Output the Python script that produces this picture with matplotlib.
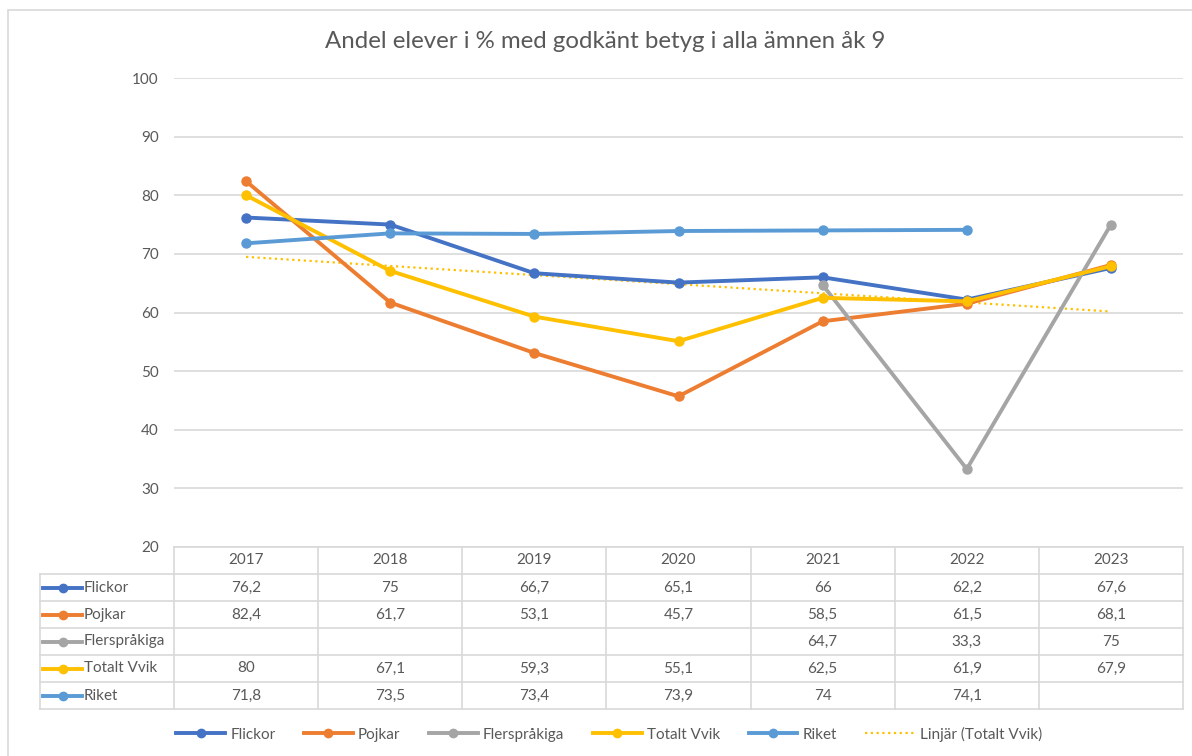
import matplotlib.pyplot as plt
from matplotlib.lines import Line2D
import numpy as np

plt.rcParams['font.family'] = ['Lato', 'DejaVu Sans']

years = ['2017', '2018', '2019', '2020', '2021', '2022', '2023']
series_names = ['Flickor', 'Pojkar', 'Flerspråkiga', 'Totalt Vvik', 'Riket']
flickor = [76.2, 75, 66.7, 65.1, 66, 62.2, 67.6]
pojkar = [82.4, 61.7, 53.1, 45.7, 58.5, 61.5, 68.1]
flersprakiga = [None, None, None, None, 64.7, 33.3, 75]
totalt = [80, 67.1, 59.3, 55.1, 62.5, 61.9, 67.9]
riket = [71.8, 73.5, 73.4, 73.9, 74, 74.1, None]
colors = ['#4472C4', '#ED7D31', '#A5A5A5', '#FFC000', '#5B9BD5']
title = 'Andel elever i % med godkänt betyg i alla ämnen åk 9'

all_values = [flickor, pojkar, flersprakiga, totalt, riket]
txt_color = '#595959'
grid_color = '#D9D9D9'
fs = 11

W, H = 1192, 756
fig = plt.figure(figsize=(W / 100, H / 100), dpi=100)

# outer chart frame (runs off the right/bottom edge)
fig.add_artist(plt.Rectangle((8 / W, -0.02), 1.2, (H - 10) / H + 0.02,
                             transform=fig.transFigure, fill=False,
                             edgecolor='#D9D9D9', lw=1.2))

# plot area in pixel coordinates
left, right, top, bottom = 174, 1183, 78, 547
ax = fig.add_axes([left / W, (H - bottom) / H, (right - left) / W, (bottom - top) / H])
x = np.arange(len(years))
ax.set_xlim(-0.5, len(years) - 0.5)
ax.set_ylim(20, 100)
ax.set_yticks(range(20, 101, 10))
ax.set_xticks([])
for s in ax.spines.values():
    s.set_visible(False)
ax.grid(axis='y', color=grid_color, lw=1.2)
ax.set_axisbelow(True)
ax.tick_params(axis='y', length=0, pad=11, labelsize=fs, labelcolor=txt_color)

for name, vals, c in zip(series_names, all_values, colors):
    xs = [i for i, v in enumerate(vals) if v is not None]
    ys = [v for v in vals if v is not None]
    ax.plot(xs, ys, color=c, lw=2.8, marker='o', ms=6.5, solid_capstyle='round',
            clip_on=False, zorder=3)

# linear trend of Totalt Vvik (Excel "Linjär")
k, m = np.polyfit(x, totalt, 1)
ax.plot(x, k * x + m, color='#FFC000', lw=1.6, ls=(0, (1, 1.6)), zorder=2)

fig.text(605 / W, (H - 42) / H, title, ha='center', va='center', fontsize=17.3, color=txt_color)

# data table underneath, sharing the x positions
row_h = 27
n_rows = len(series_names)
tab = fig.add_axes([left / W, (H - bottom - row_h * (n_rows + 1)) / H,
                    (right - left) / W, row_h * (n_rows + 1) / H])
tab.set_xlim(-0.5, len(years) - 0.5)
tab.set_ylim(n_rows + 1, 0)
tab.axis('off')
px = (len(years)) / (right - left)  # data units per pixel
lab_left = -0.5 - (left - 40) * px

for i, yr in enumerate(years):
    tab.text(i, 0.5, yr, ha='center', va='center', fontsize=fs, color=txt_color)
# grid lines
tab.plot([-0.5, 6.5], [0, 0], color=grid_color, lw=1.2, clip_on=False)
for r in range(1, n_rows + 2):
    tab.plot([lab_left, 6.5], [r, r], color=grid_color, lw=1.2, clip_on=False)
for i in range(len(years) + 1):
    tab.plot([i - 0.5, i - 0.5], [0, n_rows + 1], color=grid_color, lw=1.2, clip_on=False)
tab.plot([lab_left, lab_left], [1, n_rows + 1], color=grid_color, lw=1.2, clip_on=False)

for r, (name, vals, c) in enumerate(zip(series_names, all_values, colors)):
    yy = r + 1.5
    x0 = lab_left + 3 * px
    x1 = lab_left + 42 * px
    tab.plot([x0, x1], [yy, yy], color=c, lw=2.8, clip_on=False)
    tab.plot([(x0 + x1) / 2], [yy], 'o', color=c, ms=6, clip_on=False)
    tab.text(x1 + 2 * px, yy, name, ha='left', va='center', fontsize=fs, color=txt_color)
    for i, v in enumerate(vals):
        if v is not None:
            s = ('%g' % v).replace('.', ',')
            tab.text(i, yy, s, ha='center', va='center', fontsize=fs, color=txt_color)

# bottom legend
handles = [Line2D([], [], color=c, lw=2.8, marker='o', ms=6) for c in colors]
handles.append(Line2D([], [], color='#FFC000', lw=1.6, ls=(0, (1, 1.6))))
labels = series_names + ['Linjär (Totalt Vvik)']
fig.legend(handles, labels, loc='center', bbox_to_anchor=(609 / W, (H - 734) / H),
           ncol=6, frameon=False, fontsize=fs, labelcolor=txt_color,
           handlelength=3.2, handletextpad=0.35, columnspacing=1.85)

fig.savefig('out.png', dpi=100)
